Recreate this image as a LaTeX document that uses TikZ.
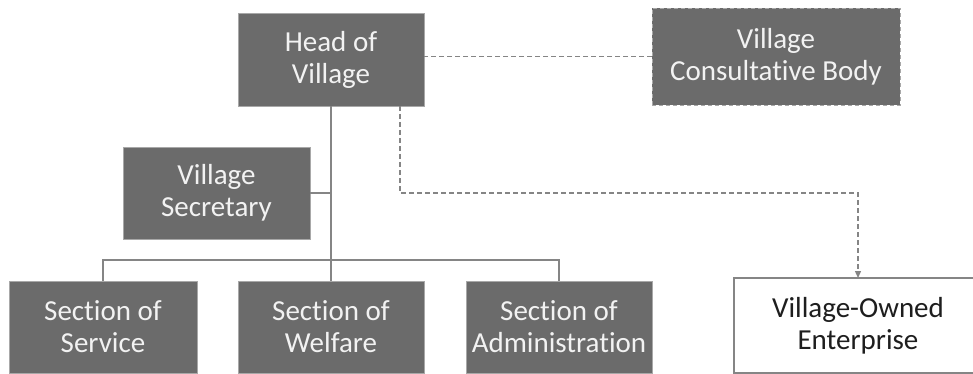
\documentclass[tikz,border=0pt]{standalone}
\usepackage{fontspec}
\setmainfont{Carlito}[Ligatures=NoCommon]
\usetikzlibrary{arrows.meta}
\definecolor{boxfill}{HTML}{6B6B6B}
\definecolor{boxedge}{HTML}{A8A8A8}
\definecolor{linegray}{HTML}{858585}
\definecolor{textlight}{HTML}{F2F2F2}
\definecolor{textdark}{HTML}{1E1E1E}
\begin{document}
\begin{tikzpicture}[x=1pt,y=-1pt,
  orgbox/.style={rectangle, draw=boxedge, line width=0.8pt, fill=boxfill,
    text=textlight, inner sep=0pt, outer sep=0pt, align=center,
    font=\fontsize{29}{32}\selectfont},
  plainbox/.style={rectangle, draw=linegray, line width=1.2pt, fill=white,
    text=textdark, inner sep=0pt, outer sep=0pt, align=center,
    font=\fontsize{29}{32}\selectfont},
  link/.style={draw=linegray, line width=1.5pt},
  dashlink/.style={draw=linegray, line width=1.3pt, dash pattern=on 5pt off 3pt}
]
\useasboundingbox (0,0) rectangle (973,374);

% units
\node[orgbox, minimum width=186pt, minimum height=93pt] (head) at (331,59.5) {Head of\\Village};
\node[orgbox, draw=boxedge, dash pattern=on 4pt off 3pt, minimum width=248pt, minimum height=97pt] (council) at (776,56.5) {Village\\Consultative Body};
\node[orgbox, minimum width=187pt, minimum height=92pt] (secretary) at (216.5,193) {Village\\Secretary};
\node[orgbox, minimum width=188pt, minimum height=92pt] (service) at (103,327) {Section of\\Service};
\node[orgbox, minimum width=186pt, minimum height=92pt] (welfare) at (331,327) {Section of\\Welfare};
\node[orgbox, minimum width=186pt, minimum height=92pt] (admin) at (559,327) {Section of\\Administration};
\node[plainbox, minimum width=248pt, minimum height=95pt] (enterprise) at (858,325.5) {Village-Owned\\Enterprise};

% line of command
\coordinate (bus) at (0,260);
\coordinate (elbow) at (0,193);
\draw[link] (head.south) -- (welfare.north);
\draw[link] (secretary.east) -- (secretary.east -| head.south);
\draw[link] (service.north) -- (service.north |- bus) -- (admin.north |- bus) -- (admin.north);

% coordination and ownership
\draw[dashlink] (council.west) -- (council.west -| head.east);
\draw[dashlink, -{Triangle[length=7pt,width=6pt]}]
  ([xshift=69pt]head.south) -- ([xshift=69pt]head.south |- elbow) -| (enterprise.north);
\end{tikzpicture}
\end{document}
